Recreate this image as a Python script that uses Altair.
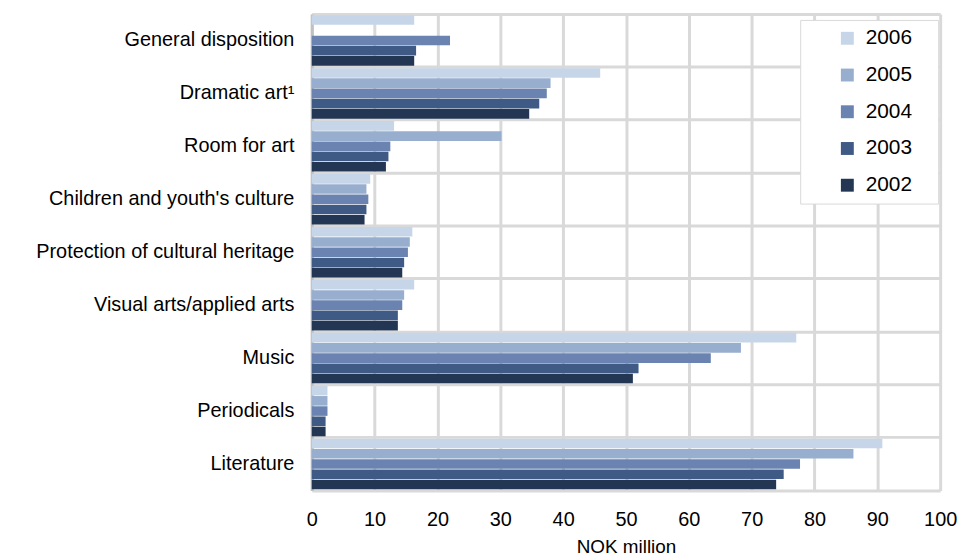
import altair as alt
import pandas as pd

categories = [
    "General disposition",
    "Dramatic art\u00b9",
    "Room for art",
    "Children and youth's culture",
    "Protection of cultural heritage",
    "Visual arts/applied arts",
    "Music",
    "Periodicals",
    "Literature",
]
years = ["2006", "2005", "2004", "2003", "2002"]
v2006 = [16.3, 45.9, 13.1, 9.3, 16.0, 16.3, 77.1, 2.5, 90.8]
v2005 = [0.0, 38.0, 30.2, 8.7, 15.6, 14.7, 68.3, 2.5, 86.2]
v2004 = [22.0, 37.4, 12.5, 9.0, 15.3, 14.4, 63.5, 2.5, 77.7]
v2003 = [16.6, 36.2, 12.2, 8.7, 14.7, 13.7, 52.0, 2.2, 75.1]
v2002 = [16.3, 34.6, 11.8, 8.4, 14.4, 13.7, 51.1, 2.2, 73.9]
colors = ["#c6d6e8", "#98aecf", "#6a83b0", "#3f5a84", "#233754"]

series = dict(zip(years, [v2006, v2005, v2004, v2003, v2002]))
rows = []
for y in years:
    for c, v in zip(categories, series[y]):
        rows.append({"category": c, "year": y, "value": v})
df = pd.DataFrame(rows)

FONT = "Liberation Sans"

chart = alt.Chart(df).mark_bar().encode(
    y=alt.Y("category:N", sort=categories, title=None,
            scale=alt.Scale(paddingInner=0, paddingOuter=0),
            axis=alt.Axis(bandPosition=0, grid=True, gridColor="#d9d9d9", gridWidth=3,
                          ticks=False, labelPadding=18, labelFontSize=20,
                          labelFont=FONT, labelColor="#000000",
                          domainColor="#c0c0c0", domainWidth=3, labelLimit=400)),
    yOffset=alt.YOffset("year:N", sort=years,
                        scale=alt.Scale(paddingInner=0.06, paddingOuter=0.12)),
    x=alt.X("value:Q", title="NOK million",
            scale=alt.Scale(domain=[0, 100], nice=False),
            axis=alt.Axis(values=list(range(0, 101, 10)), grid=True, gridColor="#d9d9d9",
                          gridWidth=3, ticks=False, labelPadding=19, labelFontSize=20,
                          labelFlush=False,
                          labelFont=FONT, labelColor="#000000",
                          titleFont=FONT, titleFontSize=19,
                          titleFontWeight="normal", titleColor="#000000", titlePadding=8,
                          domainColor="#d9d9d9", domainWidth=3)),
    color=alt.Color("year:N", sort=years, title=None,
                    scale=alt.Scale(domain=years, range=colors),
                    legend=alt.Legend(orient="none", legendX=492, legendY=6,
                                      fillColor="#ffffff", strokeColor="#d9d9d9",
                                      padding=8, symbolOffset=29, symbolType="square",
                                      symbolSize=169, symbolStrokeWidth=0,
                                      labelFontSize=21, labelFont=FONT,
                                      labelExpr="datum.label + '\u2007\u00a0\u200b'",
                                      labelColor="#000000", rowPadding=15, labelOffset=8)),
).properties(width=633, height=480, padding={"left": 27, "top": 4, "right": 5, "bottom": 0}
).configure_view(stroke=None)

chart.save("out.html", embed_options={"renderer": "svg", "actions": False})
